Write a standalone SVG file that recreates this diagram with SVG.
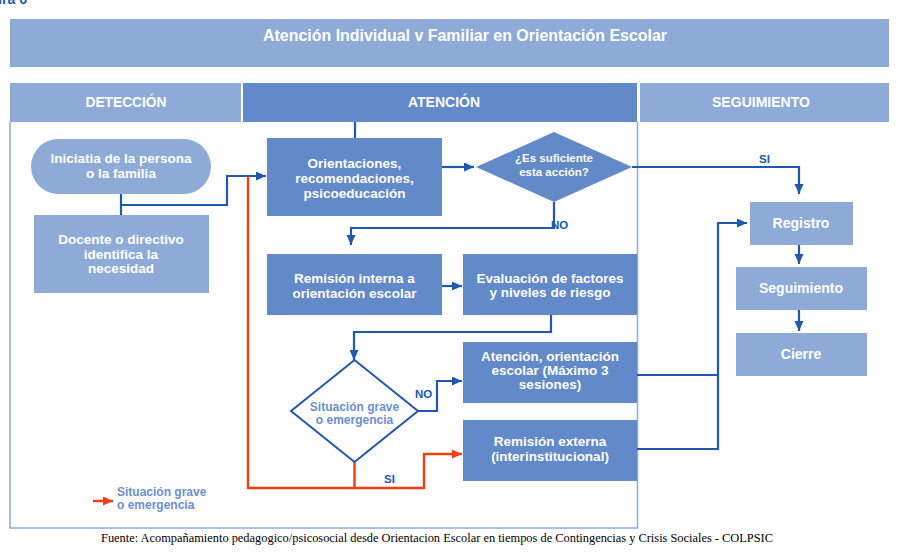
<svg xmlns="http://www.w3.org/2000/svg" width="909" height="555" viewBox="0 0 909 555">
<style>
.lt{fill:#8eabd7}
.dk{fill:#6289c8}
.wt{font-family:"Liberation Sans",Arial,sans-serif;font-weight:700;fill:#ffffff;text-anchor:middle;font-size:13.5px}
.w1{font-family:"Liberation Sans",Arial,sans-serif;font-weight:700;fill:#ffffff;text-anchor:middle;font-size:14px}
.hd{font-family:"Liberation Sans",Arial,sans-serif;font-weight:700;fill:#ffffff;text-anchor:middle;font-size:14px}
.dt{font-family:"Liberation Sans",Arial,sans-serif;font-weight:700;fill:#6b8fd0;text-anchor:middle;font-size:12px}
.bl{fill:none;stroke:#2157ad;stroke-width:2.2}
.rd{fill:none;stroke:#f53d13;stroke-width:2.4}
.lb{font-family:"Liberation Sans",Arial,sans-serif;font-weight:700;fill:#2157ad;font-size:11.5px}
.lg{font-family:"Liberation Sans",Arial,sans-serif;font-weight:700;fill:#6b8fd0;font-size:12px}
</style>
<defs>
<marker id="ab" markerUnits="userSpaceOnUse" markerWidth="12" markerHeight="10" refX="10" refY="4.5" orient="auto"><path d="M0,0 L10,4.5 L0,9 Z" fill="#2157ad"/></marker>
<marker id="ar" markerUnits="userSpaceOnUse" markerWidth="12" markerHeight="10" refX="10" refY="4.5" orient="auto"><path d="M0,0 L10,4.5 L0,9 Z" fill="#f53d13"/></marker>
</defs>
<rect width="909" height="555" fill="#ffffff"/>
<text x="27" y="4" font-family="Liberation Sans, Arial, sans-serif" font-weight="700" font-size="14" fill="#2157ad" text-anchor="end">Figura 6</text>

<g id="title">
<rect x="10" y="19" width="879" height="48" class="lt"/>
<text x="465" y="41" class="hd" font-size="16" style="font-size:16px" textLength="404" lengthAdjust="spacingAndGlyphs">Atención Individual v Familiar en Orientación Escolar</text>
</g>

<g id="headers">
<rect x="10" y="83" width="231" height="39" class="lt"/>
<rect x="243" y="83" width="394" height="39" class="dk"/>
<rect x="640" y="83" width="249" height="39" class="lt"/>
<text x="126" y="107" class="hd" textLength="81" lengthAdjust="spacingAndGlyphs">DETECCIÓN</text>
<text x="444" y="107" class="hd" textLength="72" lengthAdjust="spacingAndGlyphs">ATENCIÓN</text>
<text x="761" y="107" class="hd" textLength="98" lengthAdjust="spacingAndGlyphs">SEGUIMIENTO</text>
</g>

<g id="frame">
<path d="M10,122 V528 H637.5 V122" fill="none" stroke="#8eabd7" stroke-width="1.5"/>
</g>

<g id="connectors">
<path class="bl" d="M121,194 V215"/>
<path class="bl" d="M121,205 H227 V176 H266" marker-end="url(#ab)"/>
<path class="bl" d="M355,122 V138"/>
<path class="bl" d="M442,167 H474" marker-end="url(#ab)"/>
<path class="bl" d="M632,167 H799 V194" marker-end="url(#ab)"/>
<path class="bl" d="M554,202 V228 H351 V245" marker-end="url(#ab)"/>
<path class="bl" d="M442,286 H462" marker-end="url(#ab)"/>
<path class="bl" d="M551,315 V332 H354 V360" marker-end="url(#ab)"/>
<path class="bl" d="M418,411 H437 V381 H462" marker-end="url(#ab)"/>
<path class="rd" d="M354.5,462 V488"/>
<path class="rd" d="M248,176 V488 H424 V454 H462" marker-end="url(#ar)"/>
<path class="bl" d="M637,375 H718"/>
<path class="bl" d="M637,449 H718 V223 H747" marker-end="url(#ab)"/>
<path class="bl" d="M799,245 V264" marker-end="url(#ab)"/>
<path class="bl" d="M799,310 V331" marker-end="url(#ab)"/>
<text x="759" y="163" class="lb">SI</text>
<text x="551" y="229" class="lb">NO</text>
<text x="415" y="398" class="lb">NO</text>
<text x="384" y="483" class="lb">SI</text>
</g>

<g id="n-iniciativa">
<rect x="31" y="139" width="180" height="55" rx="27.5" class="lt"/>
<text x="121" y="163" class="wt">Iniciatia de la persona</text>
<text x="121" y="178" class="wt">o la familia</text>
</g>

<g id="n-docente">
<rect x="34" y="215" width="175" height="78" class="lt"/>
<text x="121" y="244" class="wt">Docente o directivo</text>
<text x="121" y="259" class="wt">identifica la</text>
<text x="121" y="273" class="wt">necesidad</text>
</g>

<g id="n-orientaciones">
<rect x="267" y="138" width="175" height="78" class="dk"/>
<text x="354.5" y="168" class="wt">Orientaciones,</text>
<text x="354.5" y="183" class="wt">recomendaciones,</text>
<text x="354.5" y="198" class="wt">psicoeducación</text>
</g>

<g id="n-suficiente">
<polygon points="476,167 554,132 632,167 554,202" class="dk"/>
<text x="554" y="162" class="wt" style="font-size:11.5px">¿Es suficiente</text>
<text x="554" y="176" class="wt" style="font-size:11.5px">esta acción?</text>
</g>

<g id="n-remision-interna">
<rect x="267" y="254" width="175" height="61" class="dk"/>
<text x="354.5" y="283" class="wt">Remisión interna a</text>
<text x="354.5" y="298" class="wt">orientación escolar</text>
</g>

<g id="n-evaluacion">
<rect x="463" y="254" width="174" height="61" class="dk"/>
<text x="550" y="283" class="wt">Evaluación de factores</text>
<text x="550" y="297" class="wt">y niveles de riesgo</text>
</g>

<g id="n-situacion">
<polygon points="291,411 354.5,360 418,411 354.5,462" fill="#ffffff" stroke="#2157ad" stroke-width="2"/>
<text x="354.5" y="411" class="dt">Situación grave</text>
<text x="354.5" y="424" class="dt">o emergencia</text>
</g>

<g id="n-atencion">
<rect x="463" y="342" width="174" height="61" class="dk"/>
<text x="550" y="361" class="wt">Atención, orientación</text>
<text x="550" y="375" class="wt">escolar (Máximo 3</text>
<text x="550" y="389" class="wt">sesiones)</text>
</g>

<g id="n-remision-externa">
<rect x="463" y="420" width="174" height="61" class="dk"/>
<text x="550" y="446" class="wt">Remisión externa</text>
<text x="550" y="461" class="wt">(interinstitucional)</text>
</g>

<g id="n-registro">
<rect x="750" y="202" width="103" height="43" class="lt"/>
<text x="801" y="228" class="w1">Registro</text>
</g>

<g id="n-seguimiento">
<rect x="736" y="267" width="131" height="43" class="lt"/>
<text x="801" y="293" class="w1">Seguimiento</text>
</g>

<g id="n-cierre">
<rect x="736" y="333" width="131" height="43" class="lt"/>
<text x="801" y="359" class="w1">Cierre</text>
</g>

<g id="legend">
<path class="rd" d="M93,501 H113" marker-end="url(#ar)"/>
<text x="117" y="496" class="lg">Situación grave</text>
<text x="117" y="509" class="lg">o emergencia</text>
</g>

<text x="101" y="542" font-family="Liberation Serif, serif" font-size="11.5" fill="#000000" textLength="672" lengthAdjust="spacingAndGlyphs">Fuente: Acompañamiento pedagogico/psicosocial desde Orientacion Escolar en tiempos de Contingencias y Crisis Sociales - COLPSIC</text>
</svg>
